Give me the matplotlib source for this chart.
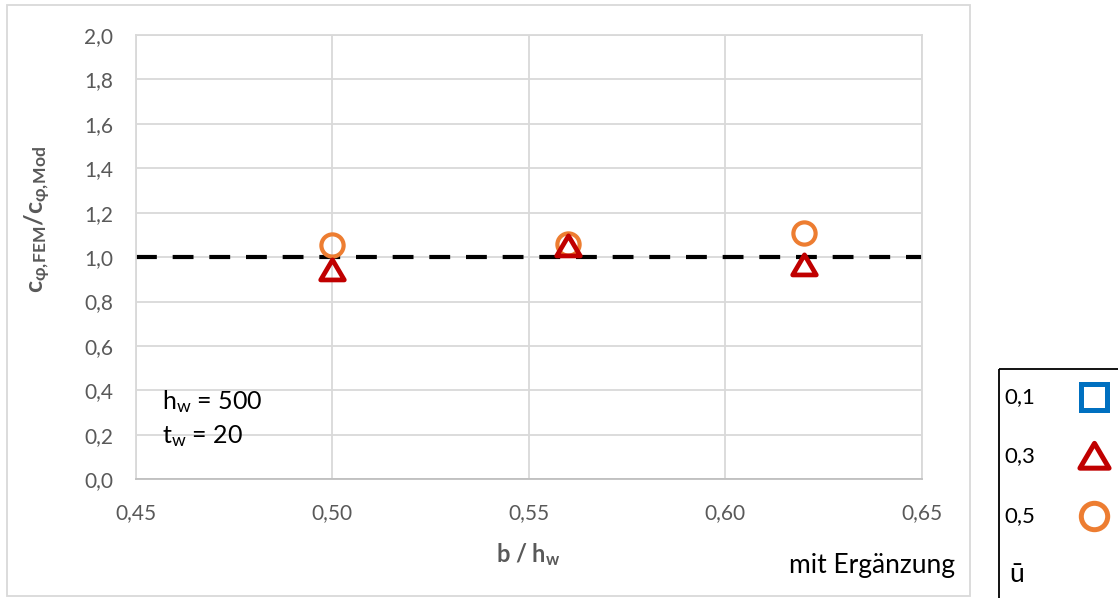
import numpy as np
import matplotlib
matplotlib.use("Agg")
import matplotlib.pyplot as plt
from matplotlib.patches import Rectangle
from matplotlib.path import Path

plt.rcParams['font.family'] = ['Lato', 'DejaVu Sans']
plt.rcParams['mathtext.fontset'] = 'custom'
plt.rcParams['mathtext.rm'] = 'Lato'
plt.rcParams['mathtext.it'] = 'Lato'
plt.rcParams['mathtext.bf'] = 'Lato:bold'

# data
x_vals = [0.50, 0.56, 0.62]
y_u03 = [0.94, 1.05, 0.965]    # triangles, u = 0,3
y_u05 = [1.055, 1.06, 1.11]    # circles, u = 0,5
ref_x = [0.45, 0.65]
ref_y = [1.0, 1.0]

x_ticks = [0.45, 0.50, 0.55, 0.60, 0.65]
y_ticks = [0.0, 0.2, 0.4, 0.6, 0.8, 1.0, 1.2, 1.4, 1.6, 1.8, 2.0]

leg_labels = ['0,1', '0,3', '0,5']
leg_colors = ['#0070C0', '#C00000', '#ED7D31']

W, H = 1118, 598
fig = plt.figure(figsize=(W / 100, H / 100), dpi=100)

# excel-ish triangle (wider than tall)
tri = Path([(-1.0, -0.8), (1.0, -0.8), (0.0, 0.9), (-1.0, -0.8)],
           [Path.MOVETO, Path.LINETO, Path.LINETO, Path.CLOSEPOLY])
leg_markers = ['s', tri, 'o']

# outer chart frame
fig.patches.append(Rectangle((7 / W, 1 - 596 / H), 963 / W, 591 / H,
                             transform=fig.transFigure, fill=False,
                             edgecolor='#D9D9D9', lw=1.3))

ax = fig.add_axes([135.7 / W, 1 - 479.3 / H, 786 / W, 444.3 / H])
ax.set_xlim(0.45, 0.65)
ax.set_ylim(0, 2.0)
ax.set_xticks(x_ticks)
ax.set_yticks(y_ticks)
ax.set_xticklabels([f"{v:.2f}".replace('.', ',') for v in x_ticks])
ax.set_yticklabels([f"{v:.1f}".replace('.', ',') for v in y_ticks])
ax.tick_params(length=0, labelsize=15, labelcolor='#595959')
ax.tick_params(axis='x', pad=17)
ax.tick_params(axis='y', pad=16)
ax.grid(True, color='#D9D9D9', lw=1.3)
ax.set_axisbelow(True)
for s in ax.spines.values():
    s.set_color('#D9D9D9')
    s.set_linewidth(1.3)
ax.spines['bottom'].set_color('#BFBFBF')

ax.plot(ref_x, ref_y, color='black', lw=3, dashes=(5, 3.8), zorder=2)
ax.plot(x_vals, y_u05, ls='none', marker='o', ms=16, mfc='none',
        mec='#ED7D31', mew=3.0, zorder=3, clip_on=False)
ax.plot(x_vals, y_u03, ls='none', marker=tri, ms=17, mfc='none',
        mec='#C00000', mew=3.4, zorder=4, clip_on=False)

ax.set_xlabel(r'b / h$_\mathbf{w}$', fontsize=17, fontweight='bold',
              color='#595959')
ax.xaxis.set_label_coords(0.5, -0.14)
ax.set_ylabel(r'$\mathbf{c_{φ,\!FEM}/c_{φ,\!Mod}}$', fontsize=18,
              color='#595959')
ax.yaxis.set_label_coords(-0.105, 0.585)

ax.text(0.034, 0.175, r'h$_\mathregular{w}$ = 500', transform=ax.transAxes,
        fontsize=18, color='black', va='center')
ax.text(0.034, 0.098, r't$_\mathregular{w}$ = 20', transform=ax.transAxes,
        fontsize=18, color='black', va='center')

fig.text(955 / W, 1 - 566 / H, 'mit Ergänzung', fontsize=19, color='black',
         ha='right', va='center')

# legend box on the right, cut off at the figure edge
lax = fig.add_axes([999 / W, 0, 130 / W, 230 / H])
lax.set_xlim(0, 130)
lax.set_ylim(230, 0)
lax.axis('off')
lax.add_patch(Rectangle((0, 1), 160, 260, fill=False, edgecolor='black',
                        lw=1.3, clip_on=False))
rows = [29, 88, 148]
for lab, col, mk, ry in zip(leg_labels, leg_colors, leg_markers, rows):
    lax.text(5, ry, lab, fontsize=16, color='black', va='center')
    lax.plot([95], [ry], marker=mk, ms=21 if mk is tri else 19, mfc='none',
             mec=col, mew=3.6, clip_on=False)
lax.text(10, 207, 'ū', fontsize=19, color='black', va='center')

fig.savefig('out.png', dpi=100)
